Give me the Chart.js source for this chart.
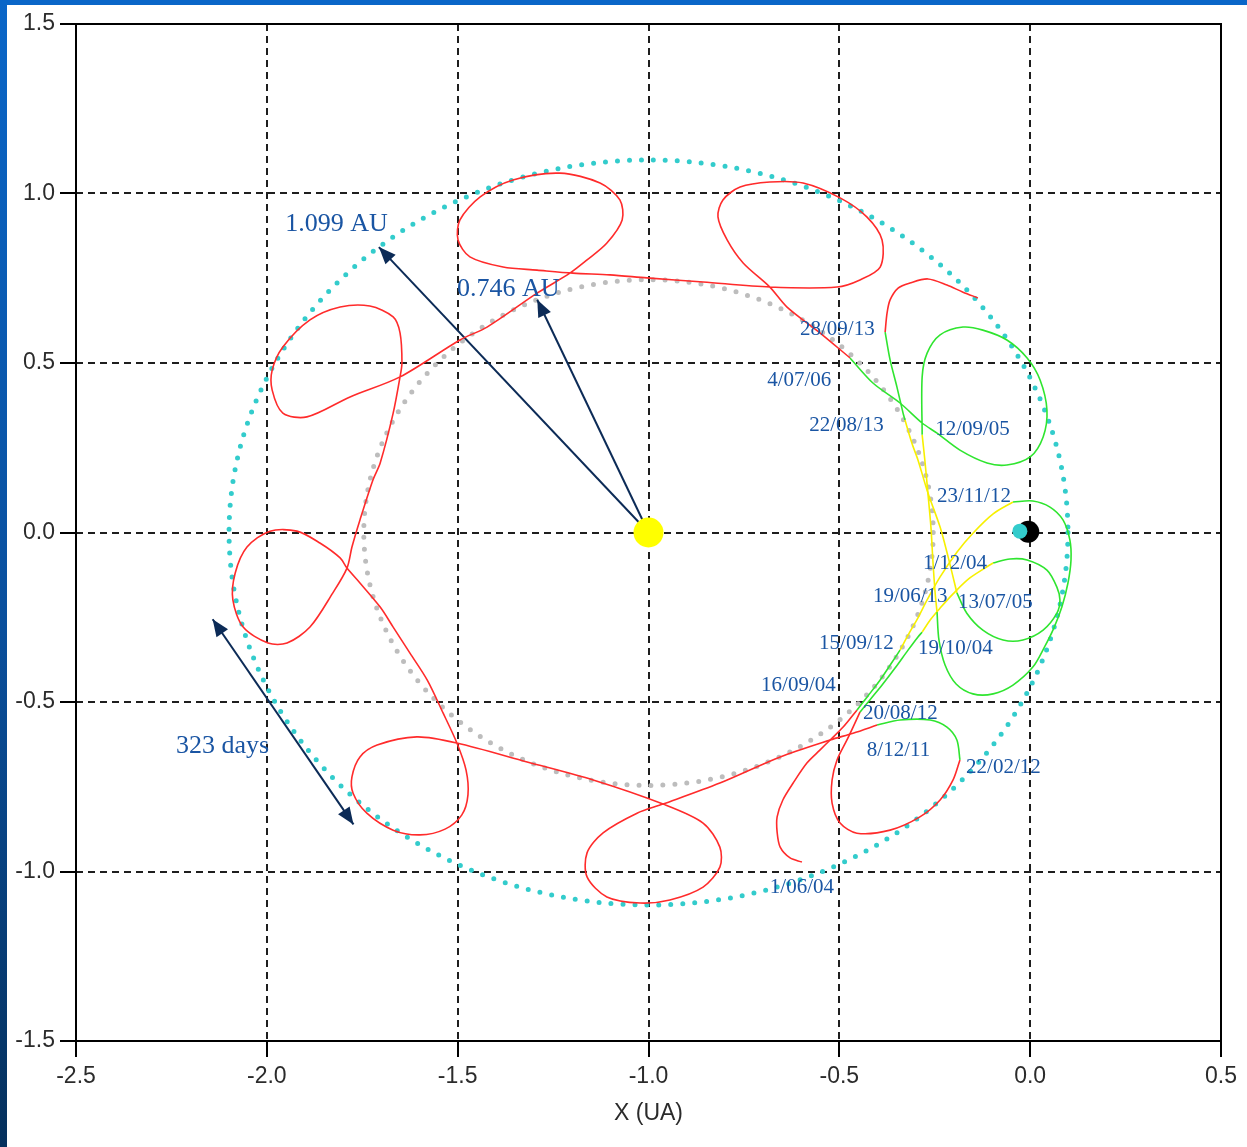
<!DOCTYPE html>
<html>
<head>
<meta charset="utf-8">
<title>Trajectoire</title>
<script src="https://cdn.jsdelivr.net/npm/chart.js@4.4.1/dist/chart.umd.min.js"></script>
<style>
  html, body { margin: 0; padding: 0; background: #fff; }
</style>
</head>
<body>
<canvas id="graficoOrbita" width="1247" height="1147"></canvas>
<script>
// Rotating frame, X and Y in AU. Sun at (-1, 0), Earth at the origin.
var sunPoint = [-1, 0];
var earthDark = [-0.005, 0.002];
var earthLit = [-0.027, 0.004];

// Perihelion / aphelion circles around the Sun (AU)
var ringRadii = [0.746, 1.099];

// 2004 approach
var redStart = [[-0.598,-0.972],[-0.629,-0.960],[-0.655,-0.928],[-0.663,-0.884],[-0.663,-0.839],[-0.648,-0.789],[-0.621,-0.739],[-0.585,-0.680],[-0.551,-0.642],[-0.524,-0.612],[-0.490,-0.574],[-0.454,-0.524]];
var greenArrival2004 = [[-0.454,-0.524],[-0.425,-0.482],[-0.393,-0.435],[-0.365,-0.388],[-0.341,-0.347]];
var yellowPass2004 = [[-0.341,-0.347],[-0.317,-0.297],[-0.294,-0.252],[-0.270,-0.199],[-0.236,-0.131],[-0.192,-0.058],[-0.150,-0.002],[-0.097,0.055],[-0.045,0.090]];
var greenLoop2004 = [[-0.045,0.090],[0.007,0.093],[0.052,0.075],[0.086,0.037],[0.104,-0.022],[0.107,-0.081],[0.099,-0.149],[0.083,-0.220],[0.062,-0.282],[0.036,-0.341],[0.007,-0.397],[-0.045,-0.450],[-0.097,-0.476],[-0.150,-0.476],[-0.194,-0.447],[-0.223,-0.391],[-0.239,-0.317],[-0.244,-0.235]];
var yellowRise2004 = [[-0.244,-0.235],[-0.249,-0.178],[-0.255,-0.081],[-0.260,0.016],[-0.268,0.117],[-0.276,0.214],[-0.283,0.288]];
var greenExit2006 = [[-0.283,0.288],[-0.283,0.459],[-0.270,0.529],[-0.236,0.583],[-0.176,0.606],[-0.124,0.597],[-0.061,0.568],[-0.008,0.515],[0.026,0.450],[0.044,0.361],[0.034,0.282],[0.000,0.223],[-0.061,0.199],[-0.113,0.205],[-0.184,0.243],[-0.244,0.293],[-0.283,0.323],[-0.341,0.382],[-0.412,0.441],[-0.472,0.515]];

// 2006 - 2011: loops around the Sun
var redCircuit = [[-0.472,0.515],[-0.551,0.589],[-0.637,0.665],[-0.682,0.724],[-0.752,0.795],[-0.794,0.863],[-0.818,0.931],[-0.805,0.981],[-0.760,1.019],[-0.682,1.034],[-0.595,1.031],[-0.498,0.987],[-0.428,0.931],[-0.388,0.863],[-0.393,0.783],[-0.446,0.745],[-0.506,0.724],[-0.682,0.724],[-0.857,0.739],[-1.004,0.751],[-1.101,0.760],[-1.198,0.765],[-1.292,0.774],[-1.381,0.783],[-1.468,0.813],[-1.499,0.863],[-1.494,0.922],[-1.441,0.990],[-1.355,1.040],[-1.232,1.060],[-1.127,1.031],[-1.075,0.981],[-1.069,0.922],[-1.109,0.854],[-1.161,0.804],[-1.206,0.765],[-1.292,0.706],[-1.423,0.606],[-1.494,0.568],[-1.651,0.459],[-1.782,0.400],[-1.895,0.341],[-1.958,0.352],[-1.986,0.420],[-1.986,0.479],[-1.958,0.547],[-1.887,0.627],[-1.808,0.665],[-1.730,0.668],[-1.669,0.636],[-1.651,0.589],[-1.646,0.500],[-1.651,0.459],[-1.669,0.352],[-1.703,0.205],[-1.722,0.155],[-1.756,0.037],[-1.777,-0.043],[-1.790,-0.105],[-1.827,-0.178],[-1.887,-0.279],[-1.947,-0.326],[-1.997,-0.326],[-2.062,-0.279],[-2.089,-0.199],[-2.083,-0.120],[-2.052,-0.043],[-1.992,0.004],[-1.921,0.004],[-1.861,-0.031],[-1.808,-0.075],[-1.790,-0.105],[-1.756,-0.149],[-1.703,-0.220],[-1.669,-0.279],[-1.625,-0.356],[-1.580,-0.435],[-1.538,-0.533],[-1.502,-0.621],[-1.478,-0.701],[-1.473,-0.774],[-1.489,-0.833],[-1.533,-0.875],[-1.599,-0.892],[-1.669,-0.878],[-1.738,-0.828],[-1.774,-0.769],[-1.777,-0.721],[-1.756,-0.662],[-1.711,-0.627],[-1.607,-0.603],[-1.502,-0.621],[-1.318,-0.677],[-1.145,-0.730],[-0.962,-0.801],[-0.857,-0.857],[-0.813,-0.928],[-0.813,-0.987],[-0.857,-1.046],[-0.944,-1.084],[-1.022,-1.093],[-1.109,-1.075],[-1.161,-1.016],[-1.161,-0.945],[-1.119,-0.886],[-1.030,-0.828],[-0.962,-0.801],[-0.813,-0.739],[-0.655,-0.662],[-0.524,-0.612],[-0.464,-0.592],[-0.401,-0.568]];

// 2011 - 2013 approach
var greenLoopTop2011 = [[-0.401,-0.568],[-0.341,-0.553],[-0.262,-0.553],[-0.218,-0.574],[-0.192,-0.612],[-0.184,-0.671]];
var redLoopBottom2012 = [[-0.184,-0.671],[-0.202,-0.730],[-0.236,-0.789],[-0.289,-0.839],[-0.367,-0.878],[-0.454,-0.887],[-0.498,-0.857],[-0.519,-0.798],[-0.519,-0.730],[-0.506,-0.671],[-0.480,-0.612],[-0.464,-0.574],[-0.446,-0.530]];
var greenRise2012 = [[-0.446,-0.530],[-0.420,-0.494],[-0.388,-0.450],[-0.354,-0.400],[-0.320,-0.347],[-0.294,-0.308],[-0.283,-0.294]];
var yellowPass2012 = [[-0.283,-0.294],[-0.262,-0.258],[-0.236,-0.223],[-0.202,-0.181],[-0.158,-0.134],[-0.097,-0.090]];
var greenLoop2013 = [[-0.097,-0.090],[-0.053,-0.078],[-0.008,-0.081],[0.044,-0.111],[0.070,-0.161],[0.078,-0.199],[0.070,-0.238],[0.034,-0.288],[-0.019,-0.317],[-0.071,-0.317],[-0.124,-0.288],[-0.166,-0.238],[-0.192,-0.178]];
var yellowRise2013 = [[-0.192,-0.178],[-0.215,-0.072],[-0.236,0.016],[-0.268,0.117],[-0.294,0.214],[-0.310,0.264],[-0.328,0.332]];
var greenExit2013 = [[-0.328,0.332],[-0.333,0.352],[-0.349,0.429],[-0.367,0.509],[-0.380,0.591]];
var redEnd2013 = [[-0.380,0.591],[-0.375,0.647],[-0.367,0.686],[-0.346,0.721],[-0.315,0.736],[-0.268,0.748],[-0.218,0.730],[-0.176,0.709],[-0.137,0.692]];

// Radius arrows from the Sun: [radius AU, direction in degrees]
var radiusArrows = [[1.099, 130], [0.746, 113]];
// Period arrow (both ends)
var periodArrow = [[-2.142, -0.256], [-1.773, -0.861]];

// Text: [text, x, y] (left edge, vertical middle)
var dateLabels = [
  ['28/09/13', -0.603, 0.600], ['4/07/06', -0.689, 0.447], ['22/08/13', -0.579, 0.317],
  ['12/09/05', -0.249, 0.305], ['23/11/12', -0.244, 0.105], ['1/12/04', -0.281, -0.090],
  ['19/06/13', -0.412, -0.190], ['13/07/05', -0.189, -0.205], ['15/09/12', -0.553, -0.326],
  ['19/10/04', -0.294, -0.341], ['16/09/04', -0.705, -0.450], ['20/08/12', -0.438, -0.533],
  ['8/12/11', -0.428, -0.642], ['22/02/12', -0.168, -0.692], ['1/06/04', -0.682, -1.046]
];
var bigLabels = [['1.099 AU', -1.952, 0.910], ['0.746 AU', -1.502, 0.718], ['323 days', -2.238, -0.630]];

document.addEventListener('DOMContentLoaded', function () {
  var rojo = '#ff2b2b', verde = '#2fe52f', amarillo = '#f7f000';
  var azulTexto = '#1a55a3', azulFlecha = '#0c2b57';

  function pts(lista) {
    return lista.map(function (p) { return { x: p[0], y: p[1] }; });
  }

  function tramo(lista, color) {
    return {
      data: pts(lista),
      showLine: true,
      borderColor: color,
      borderWidth: 1.6,
      pointRadius: 0,
      tension: 0.3,
      fill: false
    };
  }

  function punto(p, radio, color) {
    return {
      data: pts([p]),
      showLine: false,
      pointRadius: radio,
      backgroundColor: color,
      borderWidth: 0
    };
  }

  function punta(ctx, fx, fy, tx, ty) {
    var a = Math.atan2(ty - fy, tx - fx), largo = 17, medio = 7;
    ctx.beginPath();
    ctx.moveTo(tx, ty);
    ctx.lineTo(tx - largo * Math.cos(a) + medio * Math.sin(a), ty - largo * Math.sin(a) - medio * Math.cos(a));
    ctx.lineTo(tx - largo * Math.cos(a) - medio * Math.sin(a), ty - largo * Math.sin(a) + medio * Math.cos(a));
    ctx.closePath();
    ctx.fill();
  }

  // blue slide frame behind everything
  var marco = {
    id: 'marco',
    beforeDraw: function (chart) {
      var c = chart.ctx, w = chart.width, h = chart.height;
      c.save();
      c.fillStyle = '#ffffff';
      c.fillRect(0, 0, w, h);
      var g = c.createLinearGradient(0, 0, 0, h);
      g.addColorStop(0, '#0a66c8');
      g.addColorStop(0.55, '#0a4f9c');
      g.addColorStop(1, '#05305c');
      c.fillStyle = g;
      c.fillRect(0, 0, 7, h);
      c.fillStyle = '#0a66c8';
      c.fillRect(0, 0, w, 5);
      c.restore();
    }
  };

  // dotted circles and arrows under the trajectories
  var anillos = {
    id: 'anillos',
    beforeDatasetsDraw: function (chart) {
      var ctx = chart.ctx, sx = chart.scales.x, sy = chart.scales.y;
      var cx = sx.getPixelForValue(sunPoint[0]), cy = sy.getPixelForValue(sunPoint[1]);
      var colores = ['#bdbdbd', '#33cccc'];
      ctx.save();
      ctx.lineCap = 'round';
      ctx.setLineDash([0, 12]);
      ctx.lineWidth = 5;
      ringRadii.forEach(function (r, i) {
        var rx = sx.getPixelForValue(sunPoint[0] + r) - cx;
        var ry = cy - sy.getPixelForValue(sunPoint[1] + r);
        ctx.beginPath();
        ctx.ellipse(cx, cy, rx, ry, 0, 0, Math.PI * 2);
        ctx.strokeStyle = colores[i];
        ctx.stroke();
      });
      ctx.setLineDash([]);
      ctx.lineCap = 'butt';
      ctx.lineWidth = 2;
      ctx.strokeStyle = azulFlecha;
      ctx.fillStyle = azulFlecha;
      radiusArrows.forEach(function (f) {
        var ang = f[1] * Math.PI / 180;
        var tx = sx.getPixelForValue(sunPoint[0] + f[0] * Math.cos(ang));
        var ty = sy.getPixelForValue(sunPoint[1] + f[0] * Math.sin(ang));
        ctx.beginPath();
        ctx.moveTo(cx, cy);
        ctx.lineTo(tx, ty);
        ctx.stroke();
        punta(ctx, cx, cy, tx, ty);
      });
      var ax = sx.getPixelForValue(periodArrow[0][0]), ay = sy.getPixelForValue(periodArrow[0][1]);
      var bx = sx.getPixelForValue(periodArrow[1][0]), by = sy.getPixelForValue(periodArrow[1][1]);
      ctx.beginPath();
      ctx.moveTo(ax, ay);
      ctx.lineTo(bx, by);
      ctx.stroke();
      punta(ctx, bx, by, ax, ay);
      punta(ctx, ax, ay, bx, by);
      ctx.restore();
    }
  };

  // plot box and annotations on top
  var notas = {
    id: 'notas',
    afterDatasetsDraw: function (chart) {
      var ctx = chart.ctx, sx = chart.scales.x, sy = chart.scales.y, a = chart.chartArea;
      ctx.save();
      ctx.strokeStyle = '#000';
      ctx.lineWidth = 2;
      ctx.strokeRect(a.left, a.top, a.right - a.left, a.bottom - a.top);
      ctx.fillStyle = azulTexto;
      ctx.textAlign = 'left';
      ctx.textBaseline = 'middle';
      ctx.font = '21px "Liberation Serif", "Times New Roman", serif';
      dateLabels.forEach(function (l) {
        ctx.fillText(l[0], sx.getPixelForValue(l[1]), sy.getPixelForValue(l[2]));
      });
      ctx.font = '26px "Liberation Serif", "Times New Roman", serif';
      bigLabels.forEach(function (l) {
        ctx.fillText(l[0], sx.getPixelForValue(l[1]), sy.getPixelForValue(l[2]));
      });
      ctx.restore();
    }
  };

  function colorRejilla(c) {
    if (!c.tick) return '#1e1e1e';
    return (c.tick.value <= c.scale.min || c.tick.value >= c.scale.max) ? 'rgba(0,0,0,0)' : '#1e1e1e';
  }

  var fuenteEje = { family: '"Liberation Sans", Arial, sans-serif', size: 23 };

  new Chart(document.getElementById('graficoOrbita'), {
    type: 'scatter',
    data: {
      datasets: [
        punto(sunPoint, 15, '#ffff00'),
        punto(earthLit, 7.5, '#33cccc'),
        punto(earthDark, 11, '#000000'),
        tramo(redStart, rojo),
        tramo(greenArrival2004, verde),
        tramo(yellowPass2004, amarillo),
        tramo(greenLoop2004, verde),
        tramo(yellowRise2004, amarillo),
        tramo(greenExit2006, verde),
        tramo(redCircuit, rojo),
        tramo(greenLoopTop2011, verde),
        tramo(redLoopBottom2012, rojo),
        tramo(greenRise2012, verde),
        tramo(yellowPass2012, amarillo),
        tramo(greenLoop2013, verde),
        tramo(yellowRise2013, amarillo),
        tramo(greenExit2013, verde),
        tramo(redEnd2013, rojo)
      ]
    },
    options: {
      responsive: false,
      animation: false,
      events: [],
      layout: { padding: { top: 24, right: 26, left: 0, bottom: 0 } },
      plugins: {
        legend: { display: false },
        tooltip: { enabled: false }
      },
      scales: {
        x: {
          type: 'linear',
          min: -2.5,
          max: 0.5,
          afterFit: function (s) { s.height = 106; },
          ticks: {
            stepSize: 0.5,
            padding: 6,
            maxRotation: 0,
            color: '#2b2b2b',
            font: fuenteEje,
            callback: function (v) { return v.toFixed(1); }
          },
          grid: {
            color: colorRejilla,
            lineWidth: 2,
            tickColor: '#000',
            tickLength: 16,
            tickWidth: 2,
            tickBorderDash: []
          },
          border: { display: false, dash: [7, 5] },
          title: {
            display: true,
            text: 'X (UA)',
            color: '#2b2b2b',
            font: fuenteEje,
            padding: { top: 0, bottom: 20 }
          }
        },
        y: {
          type: 'linear',
          min: -1.5,
          max: 1.5,
          afterFit: function (s) { s.width = 76; },
          ticks: {
            stepSize: 0.5,
            padding: 5,
            color: '#2b2b2b',
            font: fuenteEje,
            callback: function (v) { return v.toFixed(1); }
          },
          grid: {
            color: colorRejilla,
            lineWidth: 2,
            tickColor: '#000',
            tickLength: 16,
            tickWidth: 2,
            tickBorderDash: []
          },
          border: { display: false, dash: [7, 5] }
        }
      }
    },
    plugins: [marco, anillos, notas]
  });
});
</script>
</body>
</html>
